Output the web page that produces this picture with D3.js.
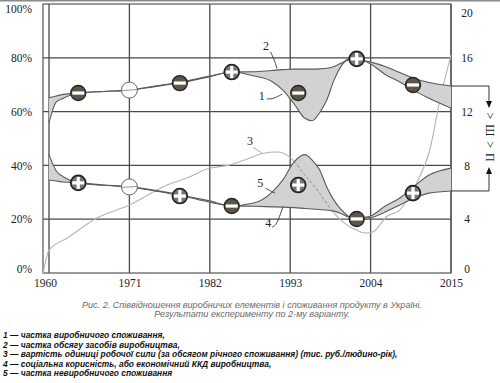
<!DOCTYPE html>
<html><head><meta charset="utf-8">
<script src="https://cdn.jsdelivr.net/npm/d3@7"></script>
<style>body{margin:0;background:#fff}</style>
</head><body>
<svg id="c" width="500" height="383" xmlns="http://www.w3.org/2000/svg"></svg>
<script>
// ---------- data ----------
const xTicks = [1960, 1971, 1982, 1993, 2004, 2015];
const leftTicks = [0, 20, 40, 60, 80, 100];
const rightTicks = [0, 4, 8, 12, 16, 20];

const years = [1960,1961,1962,1964,1967.5,1971,1974.5,1978,1982,1985,1988,1990.5,1992,1993.5,1995,1996,1997,1998,1999,2000,2001,2002,2003,2004,2006,2008,2010,2012,2015];
// 1 - share of productive consumption (%)
const share1 = [55.8,63.6,65.0,66.9,67.5,68.0,69.3,70.7,73.0,74.7,73.3,71.2,68.0,63.0,57.5,56.6,59.5,64.3,71.7,77.0,79.6,80.0,79.0,77.7,73.8,71.0,67.7,65.0,61.3];
// 2 - share of means of production (%)
const share2 = [65.1,65.8,66.4,66.9,67.5,68.0,69.5,71.0,73.2,74.7,74.8,75.3,75.6,75.8,75.8,75.8,75.9,76.1,76.8,78.1,79.2,79.6,79.0,78.4,76.8,74.5,72.3,70.8,69.5];
// 5 - share of non-productive consumption (%)
const share5 = [44.0,37.9,35.7,33.5,32.6,32.0,30.7,29.0,26.8,25.0,26.0,30.0,34.6,41.2,44.0,42.0,38.5,32.0,27.0,23.5,21.0,20.3,20.6,21.2,24.9,27.9,32.3,36.4,39.0];
// 4 - social utility / economic efficiency (%)
const share4 = [34.6,34.2,33.8,33.5,32.7,32.0,30.5,28.8,26.3,24.9,24.8,24.6,24.5,24.3,24.0,23.8,23.6,23.4,23.0,22.0,20.8,20.2,20.4,20.6,22.7,25.3,27.9,29.7,30.5];
// 3 - value of labour unit (thous. rub / person-year, right axis)
const years3 = [1959.2,1960,1962.5,1966.6,1971,1976,1979,1982,1984.5,1987.5,1989.3,1991.2,1993,1995,1997,1999,2000.2,2002,2003.2,2004.3,2006.2,2008,2010.3,2012.1,2013.5,2015];
const labour3 = [0,1.7,2.6,4.1,5.05,6.5,7.1,7.8,8.0,8.55,8.9,9.0,8.6,7.3,5.95,4.45,3.8,3.2,2.97,3.05,4.2,4.7,6.7,9.15,12.9,16.2];

// markers
const markerYears = [1964,1971,1977.9,1985,1994.1,2002.1,2009.8];
const upperMarkerVals = [66.9,68.0,70.6,74.7,66.9,79.6,69.9];
const upperMarkerTypes = ["minus","empty","minus","plus","minus","plus","minus"];
const lowerMarkerVals = [33.5,32.0,28.6,24.9,32.7,20.1,29.7];
const lowerMarkerTypes = ["plus","empty","plus","minus","plus","minus","plus"];

const captionLines = ["Рис. 2. Співвідношення виробничих елементів і споживання продукту в Україні.",
                      "Результати експерименту по 2-му варіанту."];
const legendLines = ["1 — частка виробничого споживання,",
                     "2 — частка обсягу засобів виробництва,",
                     "3 — вартість одиниці робочої сили (за обсягом річного споживання) (тис. руб./людино-рік),",
                     "4 — соціальна корисність, або економічний ККД виробництва,",
                     "5 — частка невиробничого споживання"];
const bracketText = "> Ш > П";

// ---------- layout ----------
const svg = d3.select("#c");
const x = d3.scaleLinear().domain([1960, 2015]).range([49, 451]);
const y = d3.scaleLinear().domain([0, 100]).range([273, 4]);
const yR = d3.scaleLinear().domain([0, 20]).range([273, 4]);
const frameL = 43, frameR = 451, frameT = 4, frameB = 273;
const gridCol = "#4a4a4a";

svg.append("line").attr("x1",0).attr("x2",500).attr("y1",0.75).attr("y2",0.75)
   .attr("stroke","#8a8a8a").attr("stroke-width",1.5);

// grid
const grid = svg.append("g");
grid.selectAll(".v").data(xTicks).join("line")
  .attr("x1", d=>x(d)).attr("x2", d=>x(d)).attr("y1", frameT).attr("y2", frameB)
  .attr("stroke", gridCol).attr("stroke-width", 1.3);
grid.selectAll(".h").data(leftTicks.filter(d=>d>0 && d<100)).join("line")
  .attr("x1", frameL).attr("x2", frameR).attr("y1", d=>y(d)).attr("y2", d=>y(d))
  .attr("stroke", gridCol).attr("stroke-width", 1.3);
grid.append("rect").attr("x", frameL).attr("y", frameT).attr("width", frameR-frameL).attr("height", frameB-frameT)
  .attr("fill","none").attr("stroke", "#555").attr("stroke-width", 1.2);

// axes labels
const serif = "'Liberation Serif','Times New Roman',serif";
const ax = svg.append("g").attr("transform", `translate(0,${frameB})`)
  .call(d3.axisBottom(x).tickValues(xTicks).tickSize(0).tickPadding(6).tickFormat(d3.format("d")));
ax.select(".domain").remove();
ax.selectAll("text").attr("font-family", serif).attr("font-size", 11.5).attr("fill","#222");
ax.selectAll(".tick").filter(d=>d===1960).select("text").attr("dx",-4);

const axL = svg.append("g").attr("transform", "translate(36,0)")
  .call(d3.axisLeft(y).tickValues(leftTicks).tickSize(0).tickPadding(4).tickFormat(d=>d+"%"));
axL.select(".domain").remove();
axL.selectAll("text").attr("font-family", serif).attr("font-size", 11.5).attr("fill","#222")
  .attr("dy", d => d===0 ? "-0.05em" : d===100 ? "0.75em" : "0.32em");

const axR = svg.append("g").attr("transform", "translate(467,0)")
  .call(d3.axisRight(yR).tickValues(rightTicks).tickSize(0).tickPadding(0));
axR.select(".domain").remove();
axR.selectAll("text").attr("font-family", serif).attr("font-size", 11.5).attr("fill","#222")
  .attr("text-anchor","middle")
  .attr("dy", d => d===0 ? "-0.05em" : d===20 ? "1.1em" : "0.32em");

// curves
const upper = years.map((yr,i)=>[yr, share1[i], share2[i]]);
const lower = years.map((yr,i)=>[yr, share5[i], share4[i]]);
const area = d3.area().x(d=>x(d[0])).y0(d=>y(d[1])).y1(d=>y(d[2])).curve(d3.curveMonotoneX);
const l1 = d3.line().x(d=>x(d[0])).y(d=>y(d[1])).curve(d3.curveMonotoneX);
const l2 = d3.line().x(d=>x(d[0])).y(d=>y(d[2])).curve(d3.curveMonotoneX);
const l3 = d3.line().x(d=>x(d[0])).y(d=>yR(d[1])).curve(d3.curveMonotoneX);
const lab = years3.map((yr,i)=>[yr, labour3[i]]);

// curve 3 (solid, under bands)
svg.append("path").attr("d", l3(lab)).attr("fill","none").attr("stroke","#b4b4b4").attr("stroke-width",1.1);

const fillCol = "#d2d2d2", lineCol = "#5a5a5a";
svg.append("path").attr("d", area(upper)).attr("fill", fillCol);
svg.append("path").attr("d", area(lower)).attr("fill", fillCol);

svg.append("clipPath").attr("id","lowclip").append("path").attr("d", area(lower));
svg.append("path").attr("d", l3(lab)).attr("fill","none").attr("stroke","#8c8c8c")
   .attr("stroke-width",1).attr("stroke-dasharray","3,2").attr("clip-path","url(#lowclip)");

[l1(upper), l2(upper), l1(lower), l2(lower)].forEach(d =>
  svg.append("path").attr("d", d).attr("fill","none").attr("stroke", lineCol).attr("stroke-width",1.1));

// markers
function drawMarkers(vals, types){
  const g = svg.append("g");
  markerYears.forEach((yr,i)=>{
    const m = g.append("g").attr("transform", `translate(${x(yr)},${y(vals[i])})`);
    const t = types[i];
    if (t === "empty") {
      m.append("circle").attr("r",8).attr("fill","#fff").attr("stroke","#666").attr("stroke-width",1);
      m.append("line").attr("x1",-8).attr("x2",8).attr("y1",0.5).attr("y2",-0.5).attr("stroke","#777").attr("stroke-width",0.8);
    } else if (t === "minus") {
      m.append("circle").attr("r",7.5).attr("fill","#5d5646").attr("stroke","#262626").attr("stroke-width",1.4);
      m.append("rect").attr("x",-6).attr("y",-1.6).attr("width",12).attr("height",3.2).attr("fill","#fff");
    } else {
      m.append("circle").attr("r",7.5).attr("fill","#777").attr("stroke","#222").attr("stroke-width",1.6);
      m.append("rect").attr("x",-6).attr("y",-1.6).attr("width",12).attr("height",3.2).attr("fill","#fff");
      m.append("rect").attr("x",-1.6).attr("y",-6).attr("width",3.2).attr("height",12).attr("fill","#fff");
    }
  });
}
drawMarkers(upperMarkerVals, upperMarkerTypes);
drawMarkers(lowerMarkerVals, lowerMarkerTypes);

// curve labels with leaders (data coordinates)
const curveLabels = [
  {t:"2", at:[1989.7,82.9], lead:[[1990.3,82.2],[1990.8,79.5],[1991.2,76.0]]},
  {t:"1", at:[1989.1,64.3], lead:[[1989.8,64.7],[1990.7,64.7],[1991.9,66.5]]},
  {t:"3", at:[1987.5,47.6], lead:[[1987.9,46.8],[1988.6,45.6],[1989.2,44.4]]},
  {t:"5", at:[1988.9,32.0], lead:[[1989.6,31.6],[1990.3,30.5],[1990.9,29.7]]},
  {t:"4", at:[1990.0,17.1], lead:[[1990.5,17.1],[1991.1,17.5],[1992.0,24.5]]}
];
const lead = d3.line().x(d=>x(d[0])).y(d=>y(d[1])).curve(d3.curveBasis);
curveLabels.forEach(c=>{
  svg.append("text").attr("x", x(c.at[0])).attr("y", y(c.at[1])).attr("text-anchor","middle")
    .attr("font-family", serif).attr("font-size", 12).attr("fill","#222").text(c.t);
  svg.append("path").attr("d", lead(c.lead)).attr("fill","none")
    .attr("stroke", c.t==="3" ? "#999" : "#333").attr("stroke-width",0.9);
});

// bracket on the right
const bx = 489;
const yTop = y(share2[share2.length-1]), yBot = y(share4[share4.length-1]);
const yTipTop = y(61.3), yTipBot = y(39.4);
const br = svg.append("g").attr("stroke","#333").attr("stroke-width",1).attr("fill","none");
br.append("path").attr("d", `M${frameR},${yTop}H${bx}V${yTipTop-6}`);
br.append("path").attr("d", `M${frameR},${yBot}H${bx}V${yTipBot+6}`);
svg.append("path").attr("d", `M${bx-3},${yTipTop-7}L${bx+3},${yTipTop-7}L${bx},${yTipTop}Z`).attr("fill","#111");
svg.append("path").attr("d", `M${bx-3},${yTipBot+7}L${bx+3},${yTipBot+7}L${bx},${yTipBot}Z`).attr("fill","#111");
const midY = (yTipTop + yTipBot) / 2;
svg.append("text").attr("transform", `translate(${bx - 3.5},${midY}) rotate(90)`)
  .attr("text-anchor","middle").attr("font-family", serif).attr("font-size", 12).attr("fill","#222")
  .attr("letter-spacing", 1).text(bracketText);

// caption
const sans = "'Liberation Sans',Arial,sans-serif";
const capTexts = captionLines.map((s,i)=>
  svg.append("text").attr("x", 252).attr("y", 308 + i*8.5).attr("text-anchor","middle")
    .attr("font-family", sans).attr("font-style","italic").attr("font-size", 8.6).attr("fill","#6a6a6a").text(s));
const capNat = capTexts[0].node().getComputedTextLength();
const capSize = 8.6 * 340 / capNat;
capTexts.forEach(t => t.attr("font-size", capSize));

// legend
const legTexts = legendLines.map((s,i)=>
  svg.append("text").attr("x", 3).attr("y", 338 + i*9.6)
    .attr("font-family", sans).attr("font-style","italic").attr("font-weight","bold").attr("font-size", 8.6).attr("fill","#111").text(s));
const legNat = legTexts[2].node().getComputedTextLength();
const legSize = 8.6 * 395 / legNat;
legTexts.forEach(t => t.attr("font-size", legSize));
</script>
</body></html>
